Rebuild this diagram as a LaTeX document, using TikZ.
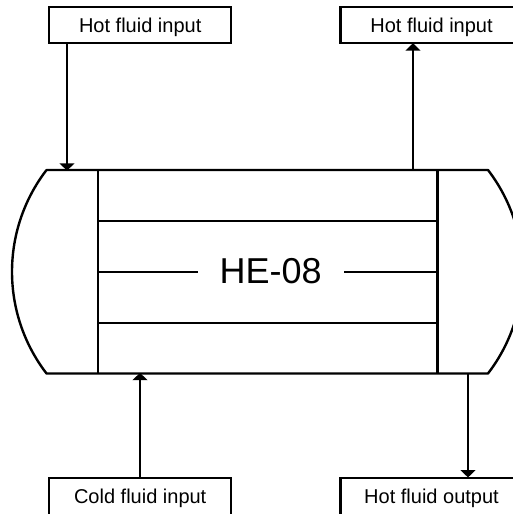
\documentclass[tikz,border=0pt]{standalone}
\usepackage{fontspec}
\setmainfont{Liberation Sans}
\usetikzlibrary{arrows.meta}
\tikzset{
  x=.75pt,y=.75pt,
  line/.style={line width=1.8pt,black},
  flow/.style={line/.try,-{Triangle[length=5.5pt,width=11pt]},shorten >=-.5pt},
  label box/.style={draw,line width=1.8pt,minimum width=136.5pt,inner sep=0pt,font=\fontsize{15}{18}\selectfont,anchor=center},
  top box/.style={label box,text height=10.75pt,text depth=0pt,minimum height=26.6pt},
  cut box/.style={label box,text height=18.75pt,text depth=20.25pt},
  tag/.style={inner sep=0pt,font=\fontsize{27}{32}\selectfont,text height=19.4pt,text depth=0pt}
}
\begin{document}
\begin{tikzpicture}
\useasboundingbox (0,0) rectangle (513,514);
\clip (0,0) rectangle (513,514);
\node[top box] (hotinA) at (140.2,489) {Hot fluid input};
\node[top box] (hotinB) at (431.5,489) {Hot fluid input};
\node[cut box] (coldin) at (140.2,10) {Cold fluid input};
\node[cut box] (hotout) at (431.5,10) {Hot fluid output};
\node[tag] (he) at (270.7,243.6) {HE-08};
% shell
\coordinate (tl) at (46.5,344); \coordinate (tr) at (488,344);
\coordinate (bl) at (46.5,140.5); \coordinate (br) at (488,140.5);
\draw[line,line join=round] (tl) -- (tr) arc[start angle=37.46,delta angle=-74.92,radius=167.3] -- (bl) arc[start angle=217.46,delta angle=-74.92,radius=167.3] -- cycle;
% tube sheets
\coordinate (t1) at (98,344); \coordinate (b1) at (98,140.5);
\coordinate (t2) at (437.5,344); \coordinate (b2) at (437.5,140.5);
\draw[line] (t1) -- (b1);
\draw[line] (t2) -- (b2);
\coordinate (a1) at (98,293); \coordinate (a2) at (437.5,293);
\coordinate (c1) at (98,191); \coordinate (c2) at (437.5,191);
\coordinate (m1) at (98,242); \coordinate (m2) at (437.5,242);
\coordinate (ml) at (198,242); \coordinate (mr) at (344,242);
\draw[line] (a1) -- (a2);
\draw[line] (c1) -- (c2);
\draw[line] (m1) -- (ml);
\draw[line] (mr) -- (m2);
% connectors
\coordinate (pA) at (67,344); \coordinate (pB) at (413,344);
\coordinate (pC) at (140,140.5); \coordinate (pD) at (468,140.5);
\draw[flow] (hotinA.south -| pA) -- (pA);
\draw[flow] (pB) -- (hotinB.south -| pB);
\draw[flow] (coldin.north -| pC) -- (pC);
\draw[flow] (pD) -- (hotout.north -| pD);
\end{tikzpicture}
\end{document}
